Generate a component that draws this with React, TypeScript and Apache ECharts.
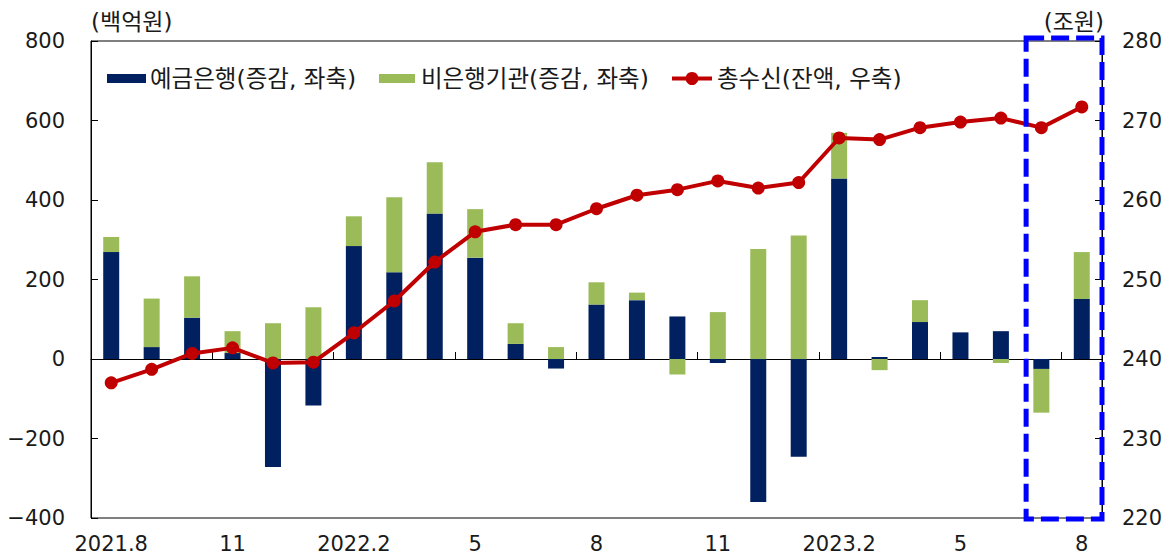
import React, { useEffect, useRef } from 'react';
import * as echarts from 'echarts';

const CATEGORIES = ['2021.8','2021.9','2021.10','2021.11','2021.12','2022.1','2022.2','2022.3','2022.4','2022.5','2022.6','2022.7','2022.8','2022.9','2022.10','2022.11','2022.12','2023.1','2023.2','2023.3','2023.4','2023.5','2023.6','2023.7','2023.8'];
const BANK = [269, 30, 104, 15, -272, -117, 284, 218, 366, 255, 38, -24, 137, 148, 107, -10, -360, -246, 454, 5, 93, 67, 70, -25, 151];
const NONBANK = [38, 122, 104, 55, 90, 130, 75, 189, 129, 122, 52, 30, 56, 19, -39, 118, 277, 311, 115, -28, 55, 0, -10, -110, 118];
const TOTAL = [237.0, 238.7, 240.7, 241.4, 239.5, 239.6, 243.3, 247.3, 252.2, 256.0, 256.9, 256.9, 258.9, 260.6, 261.3, 262.4, 261.5, 262.2, 267.8, 267.6, 269.1, 269.8, 270.3, 269.1, 271.7];

const SERIES_NAMES = ['예금은행(증감, 좌축)', '비은행기관(증감, 좌축)', '총수신(잔액, 우축)'];
const UNIT_LEFT = '(백억원)';
const UNIT_RIGHT = '(조원)';
const HIGHLIGHT_CATEGORY = '2023.7';

const NAVY = '#002060';
const GREEN = '#9BBB59';
const RED = '#C00000';
const TEXT = '#1a1a1a';
const FONT = '"DejaVu Sans", "Noto Sans CJK KR", sans-serif';
const KFONT = '"DejaVu Sans", "Noto Sans CJK KR", sans-serif';

export default function App() {
  const ref = useRef<HTMLDivElement>(null);
  useEffect(() => {
    document.body.style.margin = '0';
    if (!ref.current) return;
    const chart = echarts.init(ref.current, undefined, { renderer: 'svg' });
    const labelFmt = (v: string, i: number) => {
      if (i === 0 || v.split('.')[1] === '2') return v;
      return v.split('.')[1];
    };
    const option: any = {
      animation: false,
      grid: { left: 91, right: 68, top: 41, bottom: 39, show: true, borderColor: '#000', borderWidth: 1, backgroundColor: 'transparent' },
      xAxis: [
        {
          type: 'category', data: CATEGORIES, position: 'bottom', boundaryGap: true,
          axisLine: { show: true, onZero: true, lineStyle: { color: '#000', width: 1 } },
          axisTick: { show: true, inside: true, length: 7, interval: (i: number) => i % 3 === 0, lineStyle: { color: '#000' } },
          axisLabel: { show: false },
          splitLine: { show: false },
        },
        {
          type: 'category', data: CATEGORIES, position: 'bottom', boundaryGap: true,
          axisLine: { show: false, onZero: false },
          axisTick: { show: false },
          axisLabel: { show: true, interval: 2, formatter: labelFmt, fontFamily: FONT, fontSize: 21, color: TEXT, margin: 15 },
          splitLine: { show: false },
        },
      ],
      yAxis: [
        {
          type: 'value', min: -400, max: 800, interval: 200, position: 'left',
          axisLine: { show: true, lineStyle: { color: '#000', width: 1 } },
          axisTick: { show: true, inside: true, length: 7, lineStyle: { color: '#000' } },
          axisLabel: { fontFamily: FONT, fontSize: 21, color: TEXT, margin: 26, formatter: (v: number) => String(v).replace('-', '\u2212') },
          splitLine: { show: false },
        },
        {
          type: 'value', min: 220, max: 280, interval: 10, position: 'right',
          axisLine: { show: true, lineStyle: { color: '#000', width: 1 } },
          axisTick: { show: true, inside: true, length: 7, lineStyle: { color: '#000' } },
          axisLabel: { fontFamily: FONT, fontSize: 21, color: TEXT, margin: 20 },
          splitLine: { show: false },
        },
      ],
      series: [
        { name: SERIES_NAMES[0], type: 'bar', stack: 'total', data: BANK, barWidth: 16, xAxisIndex: 0, yAxisIndex: 0, itemStyle: { color: NAVY } },
        { name: SERIES_NAMES[1], type: 'bar', stack: 'total', data: NONBANK, barWidth: 16, xAxisIndex: 0, yAxisIndex: 0, itemStyle: { color: GREEN } },
        { name: SERIES_NAMES[2], type: 'line', data: TOTAL, xAxisIndex: 0, yAxisIndex: 1, z: 5, symbol: 'circle', symbolSize: 13, lineStyle: { color: RED, width: 4 }, itemStyle: { color: RED } },
      ],
    };
    chart.setOption(option);

    const cx = chart.convertToPixel({ xAxisIndex: 0 }, HIGHLIGHT_CATEGORY) as number;
    const cx0 = chart.convertToPixel({ xAxisIndex: 0 }, CATEGORIES[0]) as number;
    const cx1 = chart.convertToPixel({ xAxisIndex: 0 }, CATEGORIES[1]) as number;
    const band = cx1 - cx0;
    const yTop = chart.convertToPixel({ yAxisIndex: 0 }, 800) as number;
    const yBot = chart.convertToPixel({ yAxisIndex: 0 }, -400) as number;
    const xLeftAxis = cx0 - band / 2;
    const xRightAxis = (chart.convertToPixel({ xAxisIndex: 0 }, CATEGORIES[CATEGORIES.length - 1]) as number) + band / 2;
    const boxLeft = cx - band / 2 + 5;

    const legY = 78.5;
    const legFont = `23.5px ${KFONT}`;
    chart.setOption({
      graphic: [
        { type: 'text', id: 'unitL', left: xLeftAxis, top: 10, style: { text: UNIT_LEFT, font: `23px ${KFONT}`, fill: TEXT } },
        { type: 'text', id: 'unitR', right: 1170 - xRightAxis - 2, top: 10, style: { text: UNIT_RIGHT, font: `23px ${KFONT}`, fill: TEXT } },
        { type: 'rect', id: 'lg1', shape: { x: 107, y: legY - 4.5, width: 39, height: 9 }, style: { fill: NAVY } },
        { type: 'text', id: 'lt1', x: 150, y: legY, style: { text: SERIES_NAMES[0], font: legFont, fill: TEXT, verticalAlign: 'middle' } },
        { type: 'rect', id: 'lg2', shape: { x: 379, y: legY - 4.5, width: 36, height: 9 }, style: { fill: GREEN } },
        { type: 'text', id: 'lt2', x: 421, y: legY, style: { text: SERIES_NAMES[1], font: legFont, fill: TEXT, verticalAlign: 'middle' } },
        { type: 'line', id: 'lg3', shape: { x1: 672, y1: legY, x2: 712, y2: legY }, style: { stroke: RED, lineWidth: 4 } },
        { type: 'circle', id: 'lg3c', shape: { cx: 692, cy: legY, r: 6.5 }, style: { fill: RED } },
        { type: 'text', id: 'lt3', x: 717, y: legY, style: { text: SERIES_NAMES[2], font: legFont, fill: TEXT, verticalAlign: 'middle' } },
        {
          type: 'rect', id: 'box', z: 100,
          shape: { x: boxLeft, y: yTop - 3, width: xRightAxis - boxLeft, height: yBot - yTop + 4 },
          style: { fill: 'none', stroke: '#0000FF', lineWidth: 5, lineDash: [18, 7] },
        },
      ],
    });
    return () => chart.dispose();
  }, []);
  return <div ref={ref} style={{ width: 1170, height: 557 }} />;
}
